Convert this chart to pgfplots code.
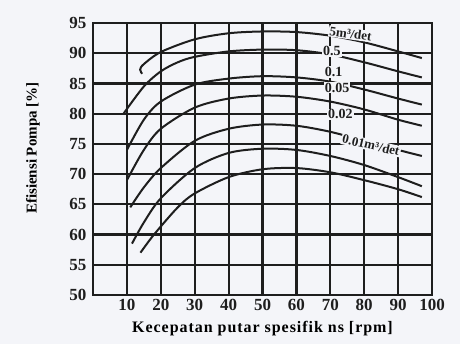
\documentclass[border=0pt]{standalone}
\usepackage{pgfplots}
\pgfplotsset{compat=1.18}
\usepackage{fontspec}
\setmainfont{Liberation Serif}
\definecolor{ink}{HTML}{1E1E1E}
\definecolor{paper}{HTML}{F4F5F9}
\begin{document}
\begin{tikzpicture}[x=1pt,y=1pt]
\fill[paper] (-93,-49) rectangle (367,295);
\useasboundingbox (-93,-49) rectangle (367,295);
\begin{axis}[
  scale only axis, width=339pt, height=272pt,
  at={(0,0)}, anchor=south west,
  xmin=0, xmax=100, ymin=50, ymax=95,
  xtick={10,20,...,100}, ytick={50,55,...,95},
  grid=major,
  major grid style={ink, line width=2.2pt},
  axis line style={ink, line width=2.4pt},
  major tick length=0pt,
  /pgf/number format/assume math mode=true,
  tick label style={font=\fontsize{17}{19}\selectfont\bfseries, ink},
  yticklabel style={xshift=-3pt},
  xticklabel style={yshift=-1pt},
  every axis x label/.style={at={(rel axis cs:0.5,0)}, anchor=center, yshift=-34pt},
  every axis y label/.style={at={(rel axis cs:0,0.54)}, anchor=center, rotate=90, yshift=60pt},
  xlabel={\fontsize{16}{18}\selectfont\bfseries\addfontfeature{LetterSpace=6}Kecepatan putar spesifik ns [rpm]},
  ylabel={\fontsize{15}{17}\selectfont\bfseries Efisiensi Pompa [\%]},
  clip=false,
]
% 5 m3/det
\addplot[ink, line width=2pt, smooth] coordinates {(14.5,86.6)(13.9,87.3)(15,88.2)(20,90.2)(30,92.3)(40,93.3)(50,93.6)(60,93.5)(70,92.9)(80,91.8)(90,90.3)(97,89.2)};
% 0.5
\addplot[ink, line width=2pt, smooth] coordinates {(9,80)(15,84.5)(20,87)(25,88.5)(30,89.4)(40,90.3)(50,90.6)(60,90.5)(70,89.8)(80,88.5)(90,87)(97,86)};
% 0.1
\addplot[ink, line width=2pt, smooth] coordinates {(10,74)(15,79)(20,82)(30,84.8)(40,85.8)(50,86.2)(60,86)(70,85.3)(80,84)(90,82.5)(97,81.5)};
% 0.05
\addplot[ink, line width=2pt, smooth] coordinates {(10,69)(15,74)(20,77.5)(30,81)(40,82.5)(50,83)(60,82.8)(70,82)(80,80.7)(90,79)(97,78)};
% 0.02
\addplot[ink, line width=2pt, smooth] coordinates {(11,64.5)(15,67.8)(20,71)(30,75.5)(40,77.5)(50,78.2)(60,78)(70,77)(80,75.5)(90,74)(97,73)};
% 0.01
\addplot[ink, line width=2pt, smooth] coordinates {(11.5,58.5)(15,62)(20,66)(30,71)(40,73.5)(50,74.2)(60,74)(70,73)(80,71.5)(90,69.5)(97,68)};
% lowest
\addplot[ink, line width=2pt, smooth] coordinates {(14,57)(18,60)(25,64.5)(30,66.8)(40,69.5)(50,70.8)(60,71)(70,70.3)(80,69)(90,67.5)(97,66.2)};
\node[ink, font=\fontsize{13}{14}\selectfont\bfseries, rotate=-8, fill=paper, inner sep=1pt] at (axis cs:76,93.2) {5m³/det};
\node[ink, font=\fontsize{14}{15}\selectfont\bfseries, fill=paper, inner sep=1pt] at (axis cs:70.5,90.3) {0.5};
\node[ink, font=\fontsize{14}{15}\selectfont\bfseries, fill=paper, inner sep=1pt] at (axis cs:71,86.9) {0.1};
\node[ink, font=\fontsize{14}{15}\selectfont\bfseries, fill=paper, inner sep=1pt] at (axis cs:72,84.3) {0.05};
\node[ink, font=\fontsize{14}{15}\selectfont\bfseries, fill=paper, inner sep=1pt] at (axis cs:73,79.9) {0.02};
\node[ink, font=\fontsize{13}{14}\selectfont\bfseries, rotate=-13, fill=paper, inner sep=1pt] at (axis cs:82,74.8) {0.01m³/det};
\end{axis}
\end{tikzpicture}
\end{document}
